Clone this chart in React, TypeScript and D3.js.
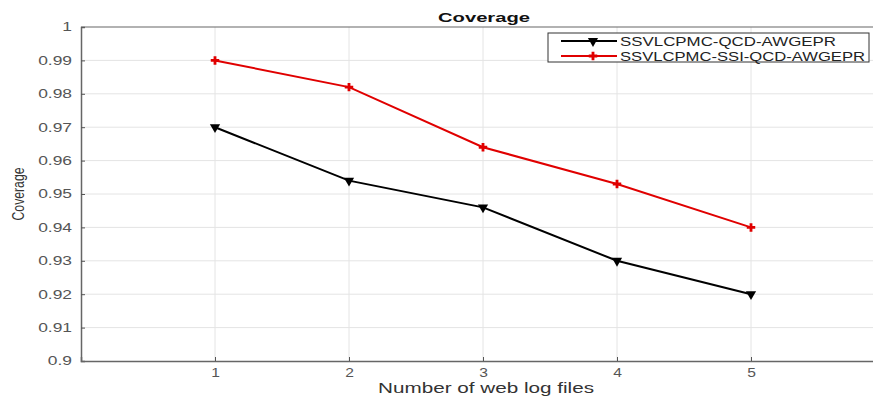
import React, { useEffect, useRef } from 'react';
import * as d3 from 'd3';

const files = [1, 2, 3, 4, 5];
const qcdCoverage = [0.97, 0.954, 0.946, 0.93, 0.92];
const ssiCoverage = [0.99, 0.982, 0.964, 0.953, 0.94];
const seriesNames = ['SSVLCPMC-QCD-AWGEPR', 'SSVLCPMC-SSI-QCD-AWGEPR'];
const yTicks = [0.9, 0.91, 0.92, 0.93, 0.94, 0.95, 0.96, 0.97, 0.98, 0.99, 1];

const W = 873, H = 396;

export default function App() {
  const ref = useRef<SVGSVGElement>(null);

  useEffect(() => {
    const svg = d3.select(ref.current);
    svg.selectAll('*').remove();
    const font = 'Liberation Sans, Arial, sans-serif';
    const m = { left: 81, top: 27, bottom: 361 };
    // the reference is stretched horizontally, so widen glyphs a bit
    const stretch = (sel: any, k: number) => sel.each(function (this: SVGTextElement) {
      const w = this.getComputedTextLength();
      d3.select(this).attr('textLength', w * k).attr('lengthAdjust', 'spacingAndGlyphs');
    });

    const x = d3.scaleLinear().domain([0, 6]).range([m.left, 885]);
    const y = d3.scaleLinear().domain([0.9, 1]).range([m.bottom, m.top]);

    // grid
    const g = svg.append('g');
    g.selectAll('.gy').data(yTicks.slice(1, -1)).enter().append('line')
      .attr('x1', m.left).attr('x2', W).attr('y1', d => y(d)).attr('y2', d => y(d))
      .attr('stroke', '#e4e4e4').attr('stroke-width', 1);
    g.selectAll('.gx').data(files).enter().append('line')
      .attr('y1', m.top).attr('y2', m.bottom).attr('x1', d => x(d)).attr('x2', d => x(d))
      .attr('stroke', '#e4e4e4').attr('stroke-width', 1);

    // axes
    const yAxis = svg.append('g').attr('transform', `translate(${m.left},0)`)
      .call(d3.axisLeft(y).tickValues(yTicks).tickSize(-4).tickPadding(9)
        .tickFormat(d => String(+(+d).toFixed(2))));
    const xAxis = svg.append('g').attr('transform', `translate(0,${m.bottom})`)
      .call(d3.axisBottom(x).tickValues(files).tickSize(-4).tickPadding(7)
        .tickFormat(d3.format('d')));
    [yAxis, xAxis].forEach(a => {
      a.select('.domain').attr('stroke', '#666').attr('stroke-width', 1.5);
      a.selectAll('.tick line').attr('stroke', '#555');
      a.selectAll('.tick text').attr('fill', '#555').style('font-family', font).style('font-size', '12px');
    });
    stretch(yAxis.selectAll('.tick text'), 1.45);
    stretch(xAxis.selectAll('.tick text'), 1.3);
    svg.append('line').attr('x1', m.left).attr('x2', W).attr('y1', m.top).attr('y2', m.top)
      .attr('stroke', '#666').attr('stroke-width', 1.2);

    // lines
    const line = d3.line<number>().x((d, i) => x(files[i])).y(d => y(d));
    const series = [
      { vals: qcdCoverage, color: '#000', sym: d3.symbolTriangle, rot: 180, size: 45 },
      { vals: ssiCoverage, color: '#e00000', sym: d3.symbolCross, rot: 0, size: 40 },
    ];
    series.forEach(s => {
      svg.append('path').datum(s.vals).attr('d', line)
        .attr('fill', 'none').attr('stroke', s.color).attr('stroke-width', 2);
      svg.selectAll(null).data(s.vals).enter().append('path')
        .attr('d', d3.symbol().type(s.sym).size(s.size)())
        .attr('transform', (d, i) => `translate(${x(files[i])},${y(d)}) rotate(${s.rot})`)
        .attr('fill', s.color);
    });

    // legend
    const lg = svg.append('g').attr('transform', 'translate(548,33)');
    lg.append('rect').attr('width', 321).attr('height', 29)
      .attr('fill', '#fff').attr('stroke', '#333').attr('stroke-width', 1);
    const legendWidths = [216, 245];
    series.forEach((s, i) => {
      const ly = 8 + i * 15;
      lg.append('line').attr('x1', 13).attr('x2', 69).attr('y1', ly).attr('y2', ly)
        .attr('stroke', s.color).attr('stroke-width', 2);
      lg.append('path').attr('d', d3.symbol().type(s.sym).size(s.size)())
        .attr('transform', `translate(45,${ly}) rotate(${s.rot})`).attr('fill', s.color);
      lg.append('text').attr('x', 72).attr('y', ly + 4.5).text(seriesNames[i])
        .style('font-family', font).style('font-size', '13px').attr('fill', '#222')
        .attr('textLength', legendWidths[i]).attr('lengthAdjust', 'spacingAndGlyphs');
    });

    // titles
    svg.append('text').attr('x', 484).attr('y', 22).attr('text-anchor', 'middle')
      .style('font-family', font).style('font-size', '13px').style('font-weight', 'bold')
      .attr('fill', '#111').attr('textLength', 92).attr('lengthAdjust', 'spacingAndGlyphs')
      .text('Coverage');
    svg.append('text').attr('x', 486).attr('y', 393).attr('text-anchor', 'middle')
      .style('font-family', font).style('font-size', '14px').attr('fill', '#333')
      .attr('textLength', 216).attr('lengthAdjust', 'spacingAndGlyphs')
      .text('Number of web log files');
    svg.append('text').attr('transform', `translate(24,194) scale(1.2,1) rotate(-90)`)
      .attr('text-anchor', 'middle').style('font-family', font).style('font-size', '13px')
      .attr('fill', '#333').attr('textLength', 53).attr('lengthAdjust', 'spacingAndGlyphs')
      .text('Coverage');
  }, []);

  return (
    <svg ref={ref} width={W} height={H}
      style={{ position: 'absolute', left: 0, top: 0, background: '#fff' }} />
  );
}
